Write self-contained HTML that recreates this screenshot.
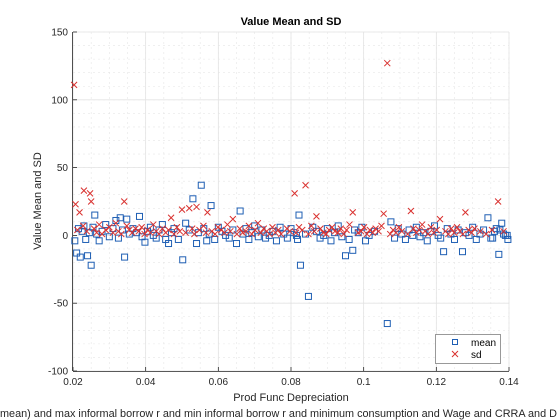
<!DOCTYPE html>
<html><head><meta charset="utf-8"><style>
html,body{margin:0;padding:0;background:#fff;}
svg{display:block;font-family:"Liberation Sans",sans-serif;}
</style></head><body>
<svg id="chart" width="560" height="420" viewBox="0 0 560 420" xmlns="http://www.w3.org/2000/svg">
<rect x="0" y="0" width="560" height="420" fill="#fff"/>
<g id="grid"></g>
<g id="axes"></g>
<g id="marks"></g>
<text x="291" y="25" text-anchor="middle" font-size="11" font-weight="bold" fill="#000">Value Mean and SD</text>
<text x="291" y="401" text-anchor="middle" font-size="11" fill="#262626">Prod Func Depreciation</text>
<text transform="translate(41,201) rotate(-90)" text-anchor="middle" font-size="11" fill="#262626">Value Mean and SD</text>
<text x="0" y="417" font-size="11" fill="#262626" textLength="557" lengthAdjust="spacingAndGlyphs">mean) and max informal borrow r and min informal borrow r and minimum consumption and Wage and CRRA and D</text>
<g id="legend">
<rect x="435.5" y="334.5" width="65" height="29" fill="#fff" stroke="#808080" stroke-width="0.8"/>
<rect x="452.5" y="339.5" width="5" height="5" fill="none" stroke="#1f5fb4" stroke-width="1"/>
<text x="471" y="346" font-size="10" fill="#000">mean</text>
<path d="M452,351 l6,6 M458,351 l-6,6" stroke="#d9312f" stroke-width="1"/>
<text x="471" y="358" font-size="10" fill="#000">sd</text>
</g>
</svg>
<script>
const xTicks=[0.02,0.04,0.06,0.08,0.1,0.12,0.14];
const xTickLabels=["0.02","0.04","0.06","0.08","0.1","0.12","0.14"];
const yTicks=[-100,-50,0,50,100,150];
const yTickLabels=["-100","-50","0","50","100","150"];
const meanX=[
.0205,.0210,.0215,.0220,.0225,.0230,.0235,.0240,.0245,.0250,
.0255,.0260,.0265,.0272,.0280,.0290,.0300,.0310,.0318,.0325,
.0330,.0336,.0342,.0348,.0355,.0365,.0375,.0383,.0390,.0398,
.0405,.0413,.0421,.0429,.0437,.0446,.0455,.0463,.0471,.0478,
.0502,.0490,.0510,.0530,.0520,.0540,.0553,.0545,.0560,.0568,
.0580,.0575,.0590,.0600,.0610,.0620,.0630,.0640,.0650,.0660,
.0668,.0676,.0684,.0692,.0700,.0710,.0720,.0730,.0740,.0750,
.0760,.0770,.0780,.0790,.0800,.0808,.0815,.0822,.0826,.0818,
.0848,.0840,.0860,.0870,.0880,.0890,.0900,.0910,.0920,.0930,
.0940,.0950,.0960,.0970,.0975,.0985,.0995,.1005,.1015,.1030,
.1065,.1075,.1085,.1095,.1105,.1115,.1125,.1135,.1145,.1155,
.1165,.1175,.1185,.1195,.1205,.1220,.1212,.1230,.1240,.1250,
.1260,.1272,.1280,.1290,.1300,.1310,.1320,.1330,.1342,.1350,
.1372,.1380,.1360,.1390,.1397,.1365,.1385,.1355,.1375,.1395];
const meanValues=[
-4,-13,5,-16,3,7,-3,-15,2,-22,
6,15,1,-4,3,8,-1,5,11,-2,
13,4,-16,12,1,5,2,14,-1,-5,
3,6,0,-2,4,8,-3,-6,2,5,
-18,-3,9,27,4,-6,37,2,5,-4,
22,1,-3,6,3,0,-2,4,-6,18,
1,5,-3,2,7,-1,4,-2,0,3,
-4,6,1,-2,5,2,0,15,-22,-3,
-45,1,6,3,-2,0,5,-4,2,7,
-1,-15,-3,-11,4,2,6,-4,0,3,
-65,10,-2,5,1,-3,4,0,6,-1,
2,-4,3,7,0,-12,-2,5,1,-3,
4,-12,2,0,6,-3,1,4,13,-2,
-14,9,3,0,-3,5,1,-2,4,0];
const sdX=[
.0203,.0207,.0212,.0218,.0230,.0247,.0250,.0228,.0238,.0258,
.0265,.0272,.0280,.0290,.0300,.0310,.0318,.0325,.0333,.0341,
.0348,.0355,.0363,.0372,.0381,.0389,.0397,.0405,.0413,.0421,
.0429,.0437,.0446,.0470,.0455,.0463,.0500,.0478,.0520,.0486,
.0494,.0540,.0510,.0528,.0534,.0570,.0548,.0559,.0566,.0582,
.0640,.0591,.0599,.0608,.0617,.0625,.0633,.0651,.0659,.0667,
.0676,.0684,.0692,.0701,.0709,.0717,.0725,.0733,.0741,.0749,
.0757,.0765,.0810,.0773,.0840,.0789,.0797,.0870,.0814,.0822,
.0831,.0848,.0856,.0864,.0881,.0889,.0970,.0897,.0905,.0913,
.0921,.1055,.0929,.1065,.0937,.0945,.0953,.0961,.0985,.0993,
.1001,.1009,.1130,.1017,.1025,.1033,.1041,.1049,.1073,.1081,
.1089,.1097,.1105,.1210,.1121,.1137,.1280,.1145,.1153,.1161,
.1169,.1177,.1185,.1193,.1201,.1225,.1233,.1241,.1249,.1370,
.1257,.1265,.1273,.1289,.1297,.1305,.1321,.1337,.1353,.1385];
const sdValues=[
111,23,4,17,33,31,25,7,3,5,
2,8,1,4,6,2,9,3,1,25,
7,4,2,5,3,6,1,4,2,8,
3,1,5,13,2,4,19,1,20,6,
3,21,2,5,1,17,4,7,2,3,
12,1,6,4,2,8,3,1,5,2,
3,7,1,4,9,2,5,3,1,6,
2,4,31,1,37,5,3,14,2,6,
4,1,7,3,5,2,17,1,4,6,
3,16,2,127,5,1,4,8,2,3,
6,1,18,4,2,5,3,7,1,4,
2,6,3,12,1,5,17,2,4,8,
3,1,6,2,4,3,1,5,2,25,
6,3,1,4,2,5,3,1,4,3];
const X0=0.02,X1=0.14,Y0=-100,Y1=150;
const PL=73,PR=509,PT=32,PB=371;
function xs2px(v){return PL+(v-X0)/(X1-X0)*(PR-PL);}
function ys2px(v){return PB-(v-Y0)/(Y1-Y0)*(PB-PT);}
const NS="http://www.w3.org/2000/svg";
const grid=document.getElementById('grid'),axes=document.getElementById('axes'),marks=document.getElementById('marks');
function mk(tag,attrs,parent){const e=document.createElementNS(NS,tag);for(const k in attrs)e.setAttribute(k,attrs[k]);parent.appendChild(e);return e;}
for(let v=X0;v<=X1+1e-9;v+=0.005){const p=xs2px(v);const l=mk('line',{x1:p,x2:p,y1:PT,y2:PB,stroke:'#e6e6e6','stroke-width':0.6,'stroke-dasharray':'2,3'},grid);

}
for(let v=Y0;v<=Y1+1e-9;v+=10){const p=ys2px(v);const l=mk('line',{x1:PL,x2:PR,y1:p,y2:p,stroke:'#e6e6e6','stroke-width':0.6,'stroke-dasharray':'2,3'},grid);

}
xTicks.forEach((v,i)=>{const p=xs2px(v);const l=mk('line',{x1:p,x2:p,y1:PT,y2:PB,stroke:'#e3e3e3','stroke-width':0.8},grid);


const t=mk('line',{x1:p,x2:p,y1:PB,y2:PB-4,stroke:'#262626','stroke-width':0.8},axes);


const tx=mk('text',{x:p,y:PB+14,'text-anchor':'middle','font-size':10,fill:'#262626'},axes);tx.textContent=xTickLabels[i];

});
yTicks.forEach((v,i)=>{const p=ys2px(v);const l=mk('line',{x1:PL,x2:PR,y1:p,y2:p,stroke:'#e3e3e3','stroke-width':0.8},grid);


const t=mk('line',{x1:PL,x2:PL+4,y1:p,y2:p,stroke:'#262626','stroke-width':0.8},axes);


const tx=mk('text',{x:PL-5,y:p+3.5,'text-anchor':'end','font-size':10,fill:'#262626'},axes);tx.textContent=yTickLabels[i];

});
const xa=mk('line',{x1:PL,x2:PR,y1:PB+0.5,y2:PB+0.5,stroke:'#262626','stroke-width':0.8},axes);


const ya=mk('line',{x1:PL-0.5,x2:PL-0.5,y1:PT,y2:PB,stroke:'#262626','stroke-width':0.8},axes);


const nM=Math.min(meanX.length,meanValues.length);
for(let i=0;i<nM;i++){const px=xs2px(meanX[i]),py=ys2px(meanValues[i]);
const sq=mk('rect',{x:px-3,y:py-3,width:6,height:6,fill:'none',stroke:'#1f5fb4','stroke-width':1},marks);

}
const nS=Math.min(sdX.length,sdValues.length);
for(let i=0;i<nS;i++){const px=xs2px(sdX[i]),py=ys2px(sdValues[i]);
const c=mk('path',{d:`M${px-3},${py-3} l6,6 M${px+3},${py-3} l-6,6`,stroke:'#d9312f','stroke-width':1},marks);

}
document.getElementById('chart').appendChild(document.getElementById('legend'));
</script>
</body></html>
